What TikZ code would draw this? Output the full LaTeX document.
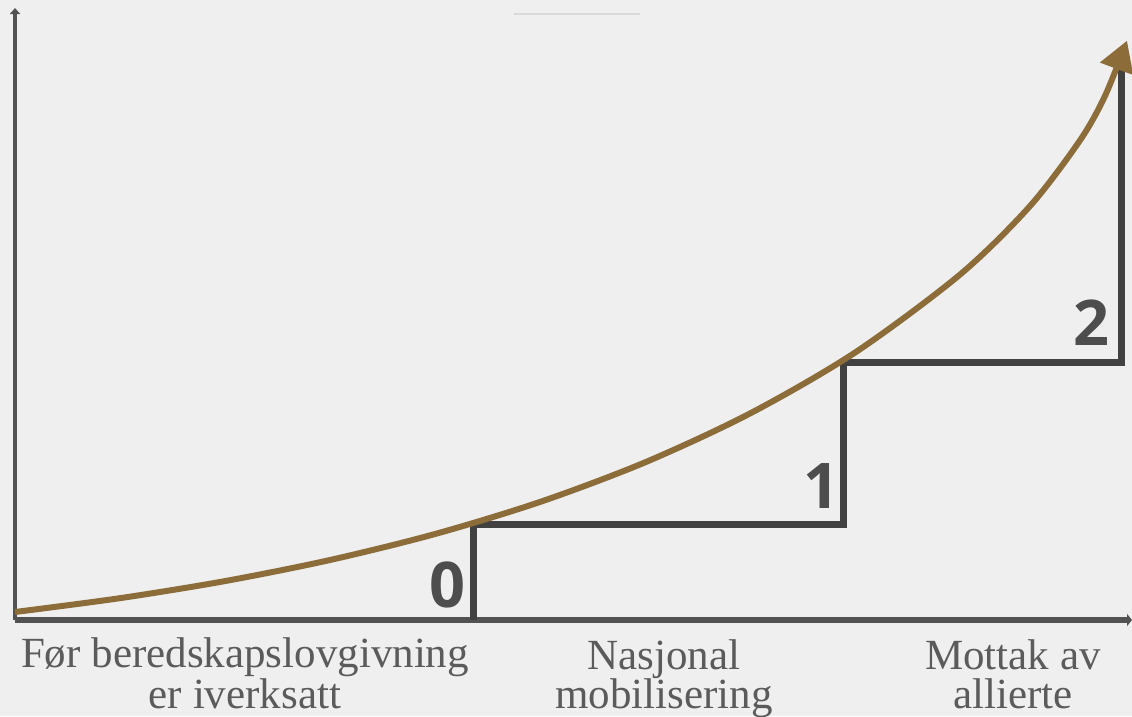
\documentclass[tikz,border=0pt]{standalone}
\usepackage{fontspec}
\setmainfont{Liberation Serif}
\newfontfamily\digitfont{Open Sans}
\usetikzlibrary{arrows.meta,positioning}
\definecolor{bggray}{HTML}{EFEFEF}
\definecolor{axisgray}{HTML}{525252}
\definecolor{stepgray}{HTML}{414141}
\definecolor{curvebrown}{HTML}{8C6D39}
\definecolor{labelgray}{HTML}{5B5B5B}
\definecolor{numgray}{HTML}{4D4D4D}
\definecolor{faintgray}{HTML}{D9D9D9}
\tikzstyle{axis}=[draw=axisgray,line width=4pt]
\tikzstyle{stepline}=[draw=stepgray,line width=7pt,line join=miter]
\tikzstyle{growth}=[draw=curvebrown,line width=6pt,-{Triangle[length=30pt,width=34pt]}]
\tikzstyle{phase}=[text=labelgray,font=\fontsize{43}{39}\selectfont,align=center,inner sep=0pt,anchor=base]
\tikzstyle{stagenum}=[text=numgray,font=\digitfont\bfseries\fontsize{63}{63}\selectfont,inner sep=0pt]

\begin{document}
\begin{tikzpicture}[x=1pt,y=-1pt]
\fill[bggray] (0,0) rectangle (1132,716);
\useasboundingbox (0,0) rectangle (1132,716);
% axes
\coordinate (o) at (15,620);
\coordinate (ytop) at (15,8);
\coordinate (xend) at (1132,620);
\draw[axis,-{Triangle[length=6pt,width=10pt]}] (o) -- (ytop);
\draw[axis,line width=6pt,-{Triangle[length=5pt,width=12pt]}] (o) -- (xend);
\draw[faintgray,line width=2pt] (514,14) -- (640,14);
% steps
\coordinate (s0) at (473,620);
\coordinate (s0t) at (473,524);
\coordinate (s1) at (843,524);
\coordinate (s1t) at (843,362);
\coordinate (s2) at (1121,362);
\coordinate (s2t) at (1121,62);
\draw[stepline] (s0) -- (s0t) -- (s1) -- (s1t) -- (s2) -- (s2t);
% growth curve
\draw[growth] plot[smooth,samples at={15,120,...,960,1030,1080,1105,1127}]
  (\x,{612-59.3*(exp(0.002*(\x-15))-1)-65*exp(0.016*(\x-1125))-16*exp(0.06*(\x-1127))});
% stage numbers
\node[stagenum] (n0) at (447,585) {0};
\node[stagenum] (n1) at (821,486) {1};
\node[stagenum] (n2) at (1091,323) {2};
% phase labels
\node[phase] (p0) at (245,708) {Før beredskapslovgivning\\er iverksatt};
\node[phase] (p1) at (664,708) {Nasjonal\\mobilisering};
\node[phase] (p2) at (1013,708) {Mottak av\\allierte};
\end{tikzpicture}
\end{document}
